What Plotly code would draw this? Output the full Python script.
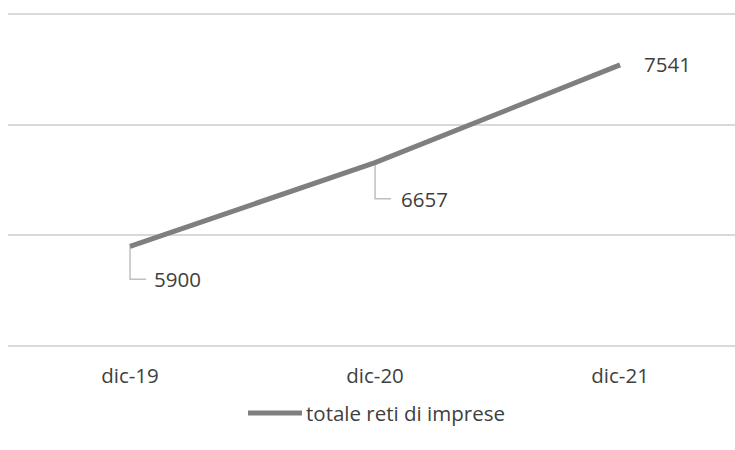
import plotly.graph_objects as go

categories = ["dic-19", "dic-20", "dic-21"]
values = [5900, 6657, 7541]
series_name = "totale reti di imprese"

FONT = "Open Sans"
FS = 20.5
TXT = "#404040"
W, H = 735, 450
ML, MR, MT, MB = 8, 0, 12, 102

fig = go.Figure()
fig.add_trace(go.Scatter(
    x=categories, y=values, mode="lines", name=series_name,
    line=dict(color="#7f7f7f", width=5), showlegend=False,
))

# data labels with leader lines
label_specs = [  # (xshift, yshift, leader path)
    (22, -33, "M 0 0 V -33 H 16"),
    (24, -36, "M 0 0 V -36 H 16"),
    (22, 1, None),
]
for cat, val, (dx, dy, path) in zip(categories, values, label_specs):
    fig.add_annotation(x=cat, y=val, xref="x", yref="y", text=str(val),
                       showarrow=False, xanchor="left", yanchor="middle",
                       xshift=dx, yshift=dy, font=dict(family=FONT, size=FS, color=TXT))
    if path:
        fig.add_shape(type="path", xref="x", yref="y", xsizemode="pixel", ysizemode="pixel",
                      xanchor=cat, yanchor=val, path=path,
                      line=dict(color="#bfbfbf", width=1.5), layer="below")

# manual legend
ly = -(413 - (H - MB)) / (H - MT - MB)
fig.add_shape(type="line", xref="paper", yref="paper",
              x0=(248 - ML) / (W - ML - MR), x1=(302 - ML) / (W - ML - MR),
              y0=ly, y1=ly, line=dict(color="#7f7f7f", width=5))
fig.add_annotation(xref="paper", yref="paper", x=(304 - ML) / (W - ML - MR),
                   y=ly, text=series_name, showarrow=False,
                   xanchor="left", yanchor="middle", font=dict(family=FONT, size=FS, color=TXT))

fig.update_layout(
    width=W, height=H, margin=dict(l=ML, r=MR, t=MT, b=MB),
    paper_bgcolor="white", plot_bgcolor="white",
    font=dict(family=FONT, size=FS, color=TXT),
)
fig.update_xaxes(type="category", range=[-0.498, 2.469], showgrid=False, zeroline=False,
                 showline=False, ticks="", ticklabelstandoff=13,
                 tickfont=dict(family=FONT, size=FS, color=TXT))
fig.update_yaxes(range=[4980, 8020], tickvals=[5000, 6000, 7000, 8000], showticklabels=False,
                 showgrid=True, gridcolor="#d9d9d9", gridwidth=1.5, zeroline=False, showline=False)
fig.write_html("out.html")
